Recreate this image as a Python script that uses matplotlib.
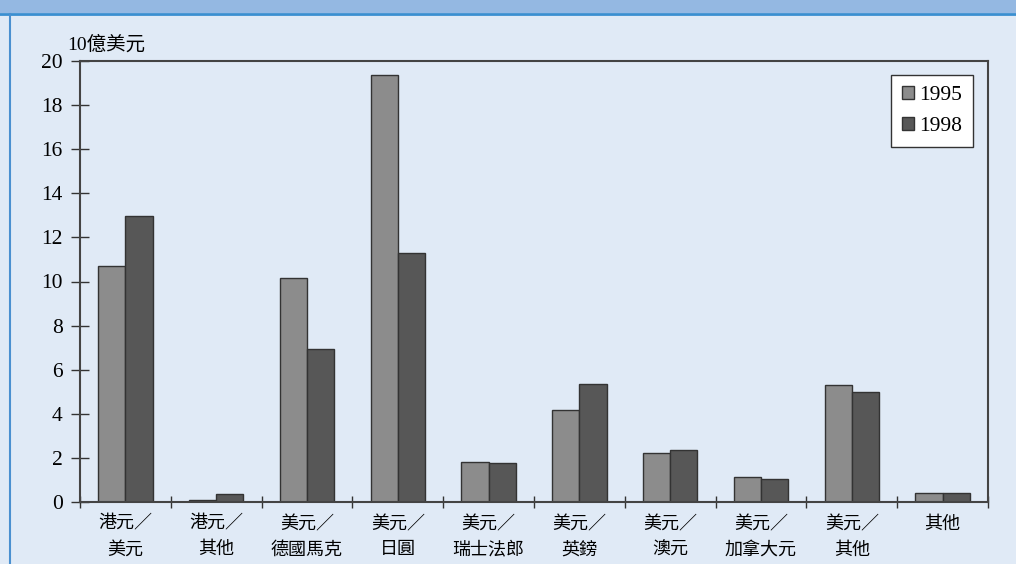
import numpy as np
import matplotlib.pyplot as plt
from matplotlib.patches import Rectangle
from matplotlib.lines import Line2D

plt.rcParams['font.family'] = ['Liberation Serif', 'Noto Sans CJK TC', 'DejaVu Sans']

# dane (10 億美元)
categories = ['港元／\n美元', '港元／\n其他', '美元／\n德國馬克', '美元／\n日圓', '美元／\n瑞士法郎',
              '美元／\n英鎊', '美元／\n澳元', '美元／\n加拿大元', '美元／\n其他', '其他']
val_1995 = [10.7, 0.1, 10.15, 19.35, 1.8, 4.15, 2.2, 1.15, 5.3, 0.4]
val_1998 = [12.95, 0.35, 6.95, 11.3, 1.75, 5.35, 2.35, 1.05, 5.0, 0.4]
years = ['1995', '1998']

bg = '#e0eaf6'
fig = plt.figure(figsize=(10.16, 5.64), dpi=100, facecolor=bg)

# pasek tytułu i ramka
fig.patches.append(Rectangle((0, 1 - 13 / 564), 1, 13 / 564, transform=fig.transFigure,
                             facecolor='#94b8e2', edgecolor='none', zorder=0))
fig.lines.append(Line2D([0, 1], [1 - 14 / 564, 1 - 14 / 564], transform=fig.transFigure,
                        color='#3a8fd0', lw=2))
fig.lines.append(Line2D([9.5 / 1016, 9.5 / 1016], [0, 1 - 14 / 564], transform=fig.transFigure,
                        color='#4a90d0', lw=1.5))

ax = fig.add_axes([80 / 1016, 1 - 502 / 564, 908 / 1016, 441 / 564])
ax.set_facecolor(bg)

x = np.arange(len(categories)) + 0.5
w = 0.3
ax.bar(x - w / 2, val_1995, w, color='#8c8c8c', edgecolor='#333333', lw=1, label=years[0])
ax.bar(x + w / 2, val_1998, w, color='#575757', edgecolor='#333333', lw=1, label=years[1])

ax.set_xlim(0, len(categories))
ax.set_ylim(0, 20)
ax.set_yticks(range(0, 21, 2))
ax.set_xticks(range(0, len(categories) + 1))
ax.set_xticklabels([])
ax.set_xticks(x, minor=True)
ax.set_xticklabels(categories, minor=True, fontsize=13, linespacing=1.65)
ax.tick_params(axis='x', which='minor', length=0, pad=10)
ax.tick_params(axis='x', which='major', direction='inout', length=9, width=1, color='#333333')
ax.tick_params(axis='y', direction='inout', length=13, width=1, color='#333333', labelsize=15.5, pad=6)
for s in ax.spines.values():
    s.set_color('#444444')
    s.set_linewidth(1.5)

fig.text(67 / 1016, 1 - 45 / 564, '10億美元', fontsize=14, va='center', ha='left')

leg = ax.legend(loc='upper right', bbox_to_anchor=(0.9835, 0.968), fontsize=15.5, frameon=True,
                fancybox=False, edgecolor='#333333', facecolor='white', framealpha=1,
                handlelength=0.55, handleheight=0.55, handletextpad=0.25, labelspacing=0.55,
                borderpad=0.5, borderaxespad=0)
leg.get_frame().set_linewidth(1)

plt.savefig('out.png', dpi=100, facecolor=bg)
